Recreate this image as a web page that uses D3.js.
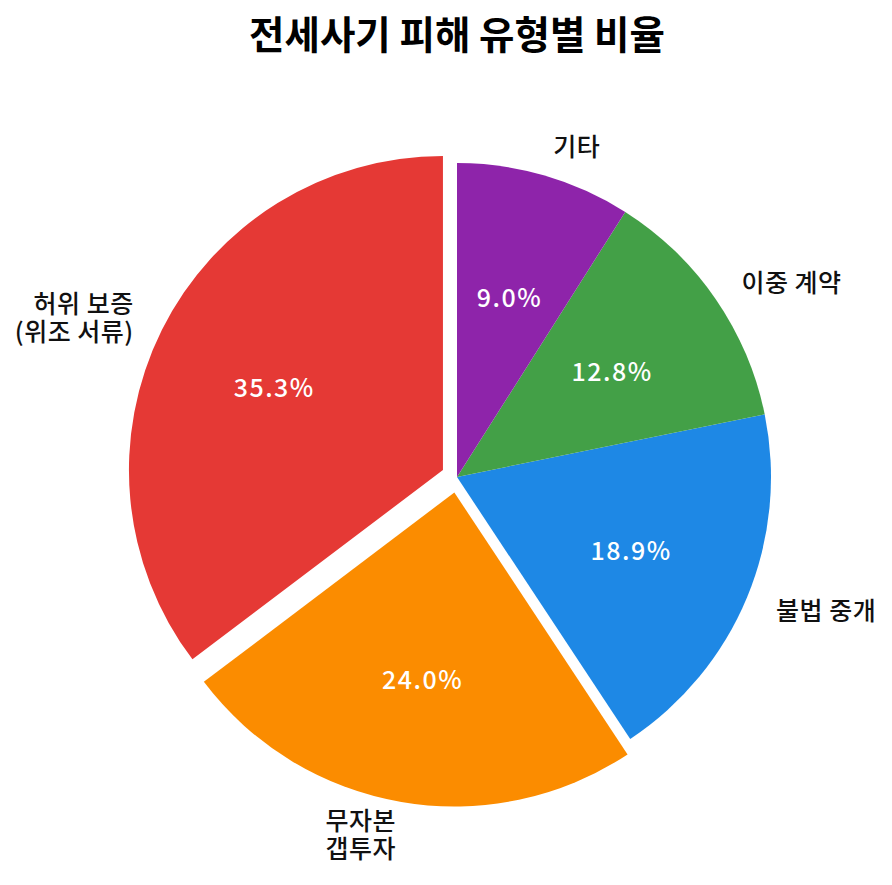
<!DOCTYPE html>
<html><head><meta charset="utf-8">
<script src="https://cdn.jsdelivr.net/npm/d3@7"></script>
<style>body{margin:0;background:#fff}</style>
</head><body>
<script>
const categories = ["허위 보증\n(위조 서류)", "무자본\n갭투자", "불법 중개", "이중 계약", "기타"];
const values = [35.3, 24.0, 18.9, 12.8, 9.0];
const colors = ["#e53935", "#fb8c00", "#1e88e5", "#43a047", "#8e24aa"];
const explode = [0.05, 0.05, 0, 0, 0];
const title = "전세사기 피해 유형별 비율";

const W = 892, H = 885, cx = 457, cy = 477, R = 314;
const font = "'Noto Sans CJK KR','Noto Sans',sans-serif";
const svg = d3.select("body").append("svg").attr("width", W).attr("height", H);

svg.append("text").attr("x", 457).attr("y", 32).attr("text-anchor", "middle")
  .attr("dominant-baseline", "central").attr("font-family", font)
  .attr("font-size", 38.5).attr("font-weight", 700).text(title);

const pie = d3.pie().sort(null).value(d => d).startAngle(0).endAngle(-2 * Math.PI);
const arcs = pie(values);
const arc = d3.arc().innerRadius(0).outerRadius(R);

const g = svg.append("g");
arcs.forEach((a, i) => {
  const mid = (a.startAngle + a.endAngle) / 2;
  const ux = Math.sin(mid), uy = -Math.cos(mid);
  const ox = cx + ux * explode[i] * R, oy = cy + uy * explode[i] * R;
  g.append("path").attr("d", arc(a)).attr("fill", colors[i])
    .attr("transform", `translate(${ox},${oy})`);
  g.append("text").attr("x", ox + ux * 0.6 * R).attr("y", oy + uy * 0.6 * R)
    .attr("text-anchor", "middle").attr("dominant-baseline", "central")
    .attr("font-family", font).attr("font-size", 25).attr("font-weight", 500)
    .attr("fill", "#fff").attr("letter-spacing", 1.5).text(values[i].toFixed(1) + "%");
  const lx = ox + ux * 1.1 * R, ly = oy + uy * 1.1 * R;
  const lines = categories[i].split("\n");
  const lh = 28;
  const t = g.append("text").attr("text-anchor", ux < 0 ? "end" : "start")
    .attr("font-family", font).attr("font-size", 25).attr("font-weight", 500).attr("fill", "#111")
    .attr("letter-spacing", 0.5);
  lines.forEach((ln, j) => {
    t.append("tspan").attr("x", lx).attr("y", ly + (j - (lines.length - 1) / 2) * lh)
      .attr("dominant-baseline", "central").text(ln);
  });
});
</script>
</body></html>
